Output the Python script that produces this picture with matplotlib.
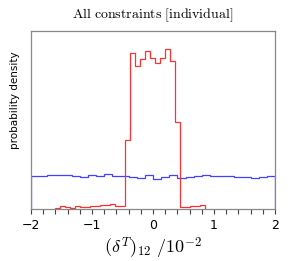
import numpy as np
import matplotlib
matplotlib.use("Agg")
import matplotlib.pyplot as plt
from matplotlib.ticker import MultipleLocator

# ------------------------------------------------------------------
# data (density per bin)
# ------------------------------------------------------------------
red_start = -1.607
red_width = 0.082
red_density = [0.010, 0.023, 0.013, 0.005, 0.023, 0.013, 0.013, 0.023, 0.023, 0.031,
               0.031, 0.039, 0.021, 0.021, 0.539, 1.216, 1.120, 1.174, 1.237, 1.182,
               1.143, 1.182, 1.250, 1.154, 0.680, 0.018, 0.018, 0.023, 0.023, 0.031]

blue_start = -2.0
blue_width = 4.0 / 30
blue_density = [0.255, 0.255, 0.268, 0.268, 0.263, 0.258, 0.250, 0.263, 0.255, 0.273,
                0.258, 0.255, 0.250, 0.240, 0.263, 0.237, 0.250, 0.266, 0.240, 0.250,
                0.258, 0.266, 0.260, 0.258, 0.258, 0.252, 0.252, 0.245, 0.252, 0.255]

x_ticks = [-2, -1, 0, 1, 2]
x_tick_labels = ["\u22122", "\u22121", "0", "1", "2"]

title = r"$\mathrm{All\ constraints\ [individual]}$"
xlabel = r"$(\delta^T)_{12}\ /10^{-2}$"
ylabel = "probability density"

plt.rcParams["mathtext.fontset"] = "cm"

fig = plt.figure(figsize=(2.96, 2.61), dpi=100)
ax = fig.add_axes([0.1047, 0.1992, 0.8243, 0.6818])


def draw_hist(start, width, dens, color):
    edges = start + width * np.arange(len(dens) + 1)
    centers = edges[:-1] + width / 2
    ax.hist(centers, bins=edges, weights=dens, histtype="step",
            color=color, linewidth=0.9)


draw_hist(blue_start, blue_width, blue_density, "#4040ff")
draw_hist(red_start, red_width, red_density, "#ff3030")

ax.set_xlim(-2, 2)
ax.set_ylim(0, 1.39)
ax.set_xticks(x_ticks)
ax.set_xticklabels(x_tick_labels, fontsize=9)
ax.xaxis.set_minor_locator(MultipleLocator(0.2))
ax.set_yticks([])
ax.tick_params(axis="x", which="both", direction="out", length=3.5,
               width=0.8, color="#444444", top=False, pad=4)
for s in ax.spines.values():
    s.set_color("#888888")
    s.set_linewidth(0.9)

ax.set_title(title, fontsize=10, pad=9)
ax.set_xlabel(xlabel, fontsize=13, labelpad=2)
ax.set_ylabel(ylabel, fontsize=7.5)
ax.yaxis.set_label_coords(-0.045, 0.61)

fig.savefig("out.png", dpi=100)
